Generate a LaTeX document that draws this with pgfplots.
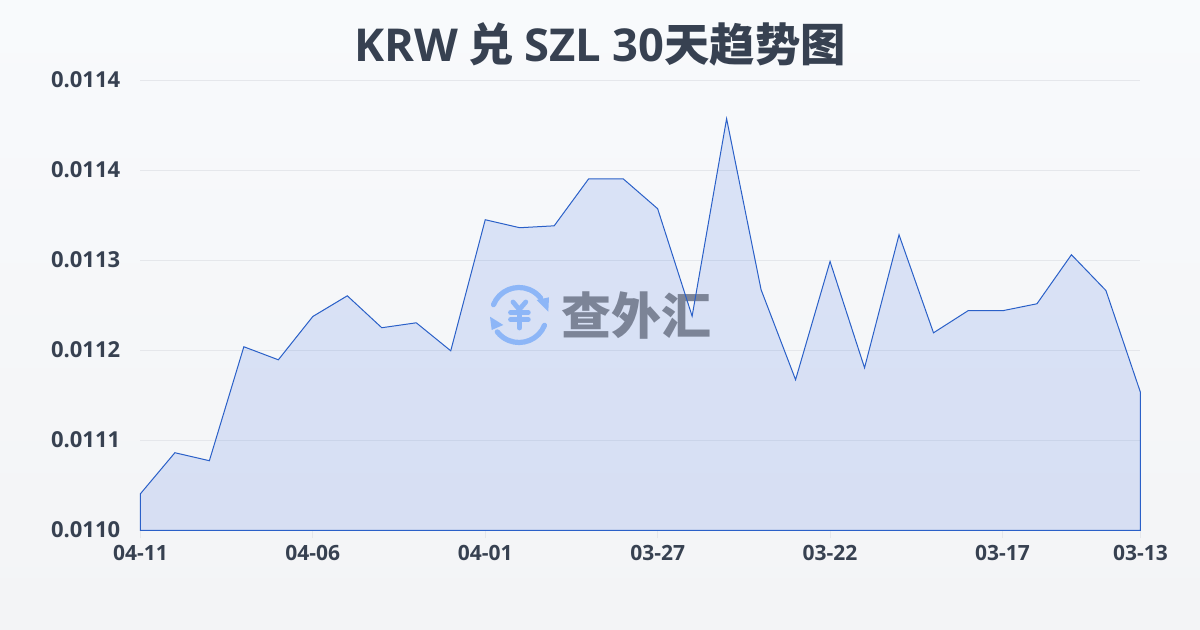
\documentclass[border=0pt]{standalone}
\usepackage{pgfplots}
\usepackage{pgfplotstable}
\usepackage{fontspec}
\pgfplotsset{compat=1.18}
\setmainfont{Noto Sans CJK SC}
\newfontfamily\lab{Open Sans}
\definecolor{bgtop}{HTML}{F8FAFC}
\definecolor{bgbot}{HTML}{F3F4F6}
\definecolor{titlec}{HTML}{374151}
\definecolor{labc}{HTML}{374151}
\definecolor{gridc}{HTML}{E5E7EB}
\definecolor{linec}{HTML}{3568E0}
\definecolor{strokec}{HTML}{2A60C8}
\definecolor{logoc}{HTML}{8DB6F7}
\definecolor{logot}{HTML}{7C8497}
\pgfplotstableread{
x y
0 0.0110726
1 0.0111091
2 0.0111020
3 0.0112033
4 0.0111917
5 0.0112302
6 0.0112486
7 0.0112202
8 0.0112246
9 0.0111997
10 0.0113162
11 0.0113091
12 0.0113108
13 0.0113526
14 0.0113526
15 0.0113260
16 0.0112305
17 0.0114060
18 0.0112540
19 0.0111740
20 0.0112791
21 0.0111846
22 0.0113028
23 0.0112157
24 0.0112353
25 0.0112353
26 0.0112415
27 0.0112851
28 0.0112533
29 0.0111629
}\ratedata
\pgfplotsset{base/.style={
  at={(105.3pt,-397.85pt)},anchor=south west,
  scale only axis,width=750pt,height=337.5pt,
  xmin=0,xmax=29,ymin=0.01104,ymax=0.01144,
  clip=false}}
\begin{document}
\begin{tikzpicture}
\useasboundingbox (0,0) rectangle (900pt,-472.5pt);
\shade[top color=bgtop,bottom color=bgbot] (0,0) rectangle (900pt,-472.5pt);
\node[text=titlec,font=\fontsize{34pt}{36pt}\selectfont\bfseries,anchor=center] at (450pt,-33pt) {{\lab KRW} 兑 {\lab SZL 30}天趋势图};
\begin{axis}[base,
  axis line style={draw=none},
  xtick pos=bottom,
  ytick pos=left,
  scaled y ticks=false,
  xtick={0,5,10,15,20,25,29},
  xticklabels={04-11,04-06,04-01,03-27,03-22,03-17,03-13},
  ytick={0.01104,0.01112,0.0112,0.01128,0.01136,0.01144},
  yticklabels={0.0110,0.0111,0.0112,0.0113,0.0114,0.0114},
  ymajorgrids,
  major grid style={gridc,line width=0.75pt},
  tick align=outside,
  major tick length=6pt,
  xtick style={gridc,line width=0.75pt},
  ytick style={draw=none},
  xticklabel style={text=labc,font=\lab\fontsize{15.75pt}{16pt}\selectfont\bfseries,inner sep=0pt,yshift=-4.8pt},
  yticklabel style={text=labc,font=\lab\fontsize{16.5pt}{18pt}\selectfont\bfseries,inner sep=0pt,xshift=-9pt,yshift=0.75pt},
]
\addplot[draw=none,fill=linec,fill opacity=0.15] table[x=x,y=y] {\ratedata} \closedcycle;
\end{axis}
% watermark
\begin{scope}[x=0.75pt,y=-0.75pt,logoc,line cap=round,line width=3.9pt]
\draw (493.5,304.7) arc[start angle=-158,end angle=-38,radius=27.5];
\draw (544.5,325.3) arc[start angle=22,end angle=142,radius=27.5];
\fill (536.7,300) -- (549,297.3) -- (548.3,311.7) -- cycle;
\fill (490,316.7) -- (503.3,325) -- (491.7,330) -- cycle;
\begin{scope}[line width=3.6pt]
\draw (513,302) -- (519.3,309.5) -- (525.8,302);
\draw (510.5,312.5) -- (528.3,312.5);
\draw (510.5,319.5) -- (528.3,319.5);
\draw (519.3,309.5) -- (519.3,328);
\end{scope}
\node[text=logot,font=\fontsize{37.5pt}{38pt}\selectfont\bfseries,anchor=center] at (636,315.5) {查外汇};
\end{scope}
\begin{axis}[base,axis lines=none,ticks=none]
\addplot[draw=strokec,line width=0.75pt,line join=miter] table[x=x,y=y] {\ratedata} \closedcycle;
\end{axis}
\end{tikzpicture}
\end{document}
